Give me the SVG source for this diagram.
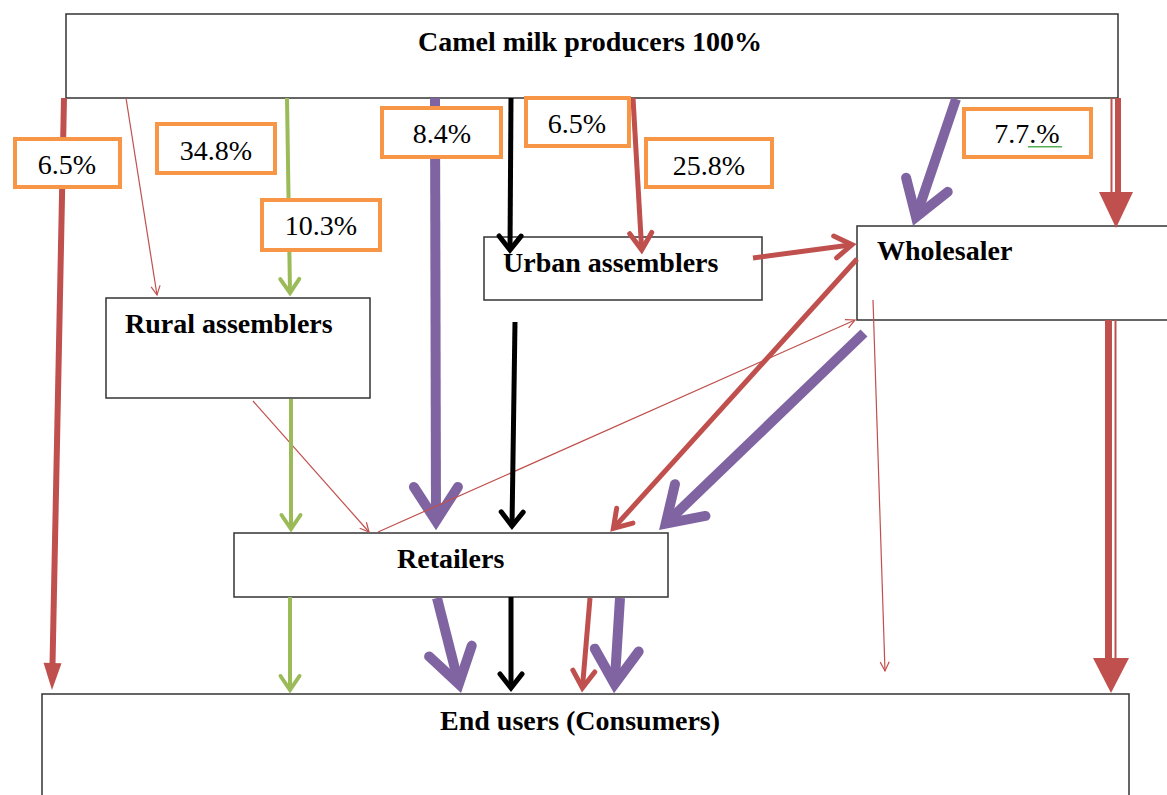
<svg xmlns="http://www.w3.org/2000/svg" width="1167" height="795" viewBox="0 0 1167 795">
<style>
.box{fill:#fff;stroke:#333;stroke-width:1.5}
.lbl{fill:#fff;stroke:#F79646;stroke-width:4}
.t{font-family:"Liberation Serif","Times New Roman",serif;font-weight:bold;font-size:28px;fill:#000}
.p{font-family:"Liberation Serif","Times New Roman",serif;font-size:28px;fill:#000;text-anchor:middle}
.c{fill:none}
.red{stroke:#C0504D}
.pur{stroke:#8064A2;stroke-width:10}
.blk{stroke:#000;stroke-width:5}
.grn{stroke:#9BBB59;stroke-width:4}
.thin{stroke:#C0504D;stroke-width:1.2}
.med{stroke-width:5}
.tri{fill:#C0504D}
</style>
<defs>
<marker id="hP" markerUnits="userSpaceOnUse" orient="auto" overflow="visible" markerWidth="1" markerHeight="1"><path d="M-34,-22 L0,0 L-34,22" fill="none" stroke="#8064A2" stroke-width="10" stroke-linecap="round" stroke-linejoin="miter"/></marker>
<marker id="hR" markerUnits="userSpaceOnUse" orient="auto" overflow="visible" markerWidth="1" markerHeight="1"><path d="M-17,-11 L0,0 L-17,11" fill="none" stroke="#C0504D" stroke-width="5" stroke-linecap="round"/></marker>
<marker id="hK" markerUnits="userSpaceOnUse" orient="auto" overflow="visible" markerWidth="1" markerHeight="1"><path d="M-14,-11 L0,0 L-14,11" fill="none" stroke="#000" stroke-width="5" stroke-linecap="round"/></marker>
<marker id="hG" markerUnits="userSpaceOnUse" orient="auto" overflow="visible" markerWidth="1" markerHeight="1"><path d="M-14,-9.5 L0,0 L-14,9.5" fill="none" stroke="#9BBB59" stroke-width="4" stroke-linecap="round"/></marker>
<marker id="hT" markerUnits="userSpaceOnUse" orient="auto" overflow="visible" markerWidth="1" markerHeight="1"><path d="M-9,-4.5 L0,0 L-9,4.5" fill="none" stroke="#C0504D" stroke-width="1.2"/></marker>
<marker id="hF" markerUnits="userSpaceOnUse" orient="auto" overflow="visible" markerWidth="1" markerHeight="1"><path d="M-7,-9 L20,0 L-7,9 Z" fill="#C0504D"/></marker>
</defs>

<g id="producers"><rect class="box" x="66" y="14" width="1052" height="84"/><text class="t" x="590" y="51" text-anchor="middle">Camel milk producers 100%</text></g>
<g id="rural"><rect class="box" x="106" y="298" width="264" height="100"/><text class="t" x="125" y="333">Rural assemblers</text></g>
<g id="urban"><rect class="box" x="484" y="237" width="278" height="63"/><text class="t" x="503" y="272">Urban assemblers</text></g>
<g id="wholesaler"><rect class="box" x="857" y="226" width="320" height="94"/><text class="t" x="877" y="260">Wholesaler</text></g>
<g id="retailers"><rect class="box" x="234" y="533" width="434" height="64"/><text class="t" x="397" y="568">Retailers</text></g>
<g id="endusers"><rect class="box" x="42" y="694" width="1087" height="120"/><text class="t" x="440" y="730">End users (Consumers)</text></g>

<g id="connectors" class="c">
<path class="red" stroke-width="6" d="M64,98 L52.4,670" marker-end="url(#hF)"/>
<path class="thin" d="M126,98 L157,295" marker-end="url(#hT)"/>
<path class="grn" d="M287,98 L290,293" marker-end="url(#hG)"/>
<path class="pur" d="M435,98 L436,521" marker-end="url(#hP)"/>
<path class="blk" d="M511,98 L510,250" marker-end="url(#hK)"/>
<path class="red med" d="M633,98 L641.7,250" marker-end="url(#hR)"/>
<path class="red med" d="M753,258 L852,244.7" marker-end="url(#hR)"/>
<path class="pur" d="M956,99 L916,217" marker-end="url(#hP)"/>
<path class="red" stroke-width="2" d="M1111.5,98 V194"/>
<path class="red" stroke-width="6" d="M1118,98 V194"/>
<polygon class="tri" points="1099,192 1133,192 1116,228"/>
<path class="red med" d="M857,259 L613.4,528.3" marker-end="url(#hR)"/>
<path class="thin" d="M378,532 L855,320" marker-end="url(#hT)"/>
<path class="pur" d="M864,333 L665.7,523.6" marker-end="url(#hP)"/>
<path class="thin" d="M873,300 L885,671" marker-end="url(#hT)"/>
<path class="red" stroke-width="7" d="M1108.5,320 V660"/>
<path class="red" stroke-width="2" d="M1115.5,320 V660"/>
<polygon class="tri" points="1093,658 1129,658 1111,693"/>
<path class="thin" d="M253,401 L369,532" marker-end="url(#hT)"/>
<path class="grn" d="M291,399 L291,529" marker-end="url(#hG)"/>
<path class="blk" d="M515,322 L512,526" marker-end="url(#hK)"/>
<path class="grn" d="M290,597 L290,690" marker-end="url(#hG)"/>
<path class="pur" d="M437,598 L458.8,684" marker-end="url(#hP)"/>
<path class="blk" d="M511,597 L511,688" marker-end="url(#hK)"/>
<path class="red med" d="M590,598 L582.4,688" marker-end="url(#hR)"/>
<path class="pur" d="M620,598 L614.6,684" marker-end="url(#hP)"/>
</g>

<g id="labels">
<rect class="lbl" x="15" y="139" width="105" height="48"/><text class="p" x="67" y="174">6.5%</text>
<rect class="lbl" x="157" y="124" width="118" height="49"/><text class="p" x="216" y="160">34.8%</text>
<rect class="lbl" x="262" y="200" width="118" height="50"/><text class="p" x="321" y="235">10.3%</text>
<rect class="lbl" x="382" y="108" width="119" height="49"/><text class="p" x="442" y="143">8.4%</text>
<rect class="lbl" x="526" y="98" width="103" height="48"/><text class="p" x="577" y="133">6.5%</text>
<rect class="lbl" x="646" y="139" width="126" height="48"/><text class="p" x="709" y="175">25.8%</text>
<rect class="lbl" x="964" y="109" width="127" height="48"/><text class="p" x="1027" y="143">7.7.%</text>
<polyline fill="none" stroke="#3BA33B" stroke-width="1" points="1028,146 1029,147.5 1030,146 1031,147.5 1032,146 1033,147.5 1034,146 1035,147.5 1036,146 1037,147.5 1038,146 1039,147.5 1040,146 1041,147.5 1042,146 1043,147.5 1044,146 1045,147.5 1046,146 1047,147.5 1048,146 1049,147.5 1050,146 1051,147.5 1052,146 1053,147.5 1054,146 1055,147.5 1056,146 1057,147.5 1058,146 1059,147.5 1060,146 1061,147.5 1062,146"/>
</g>
</svg>
